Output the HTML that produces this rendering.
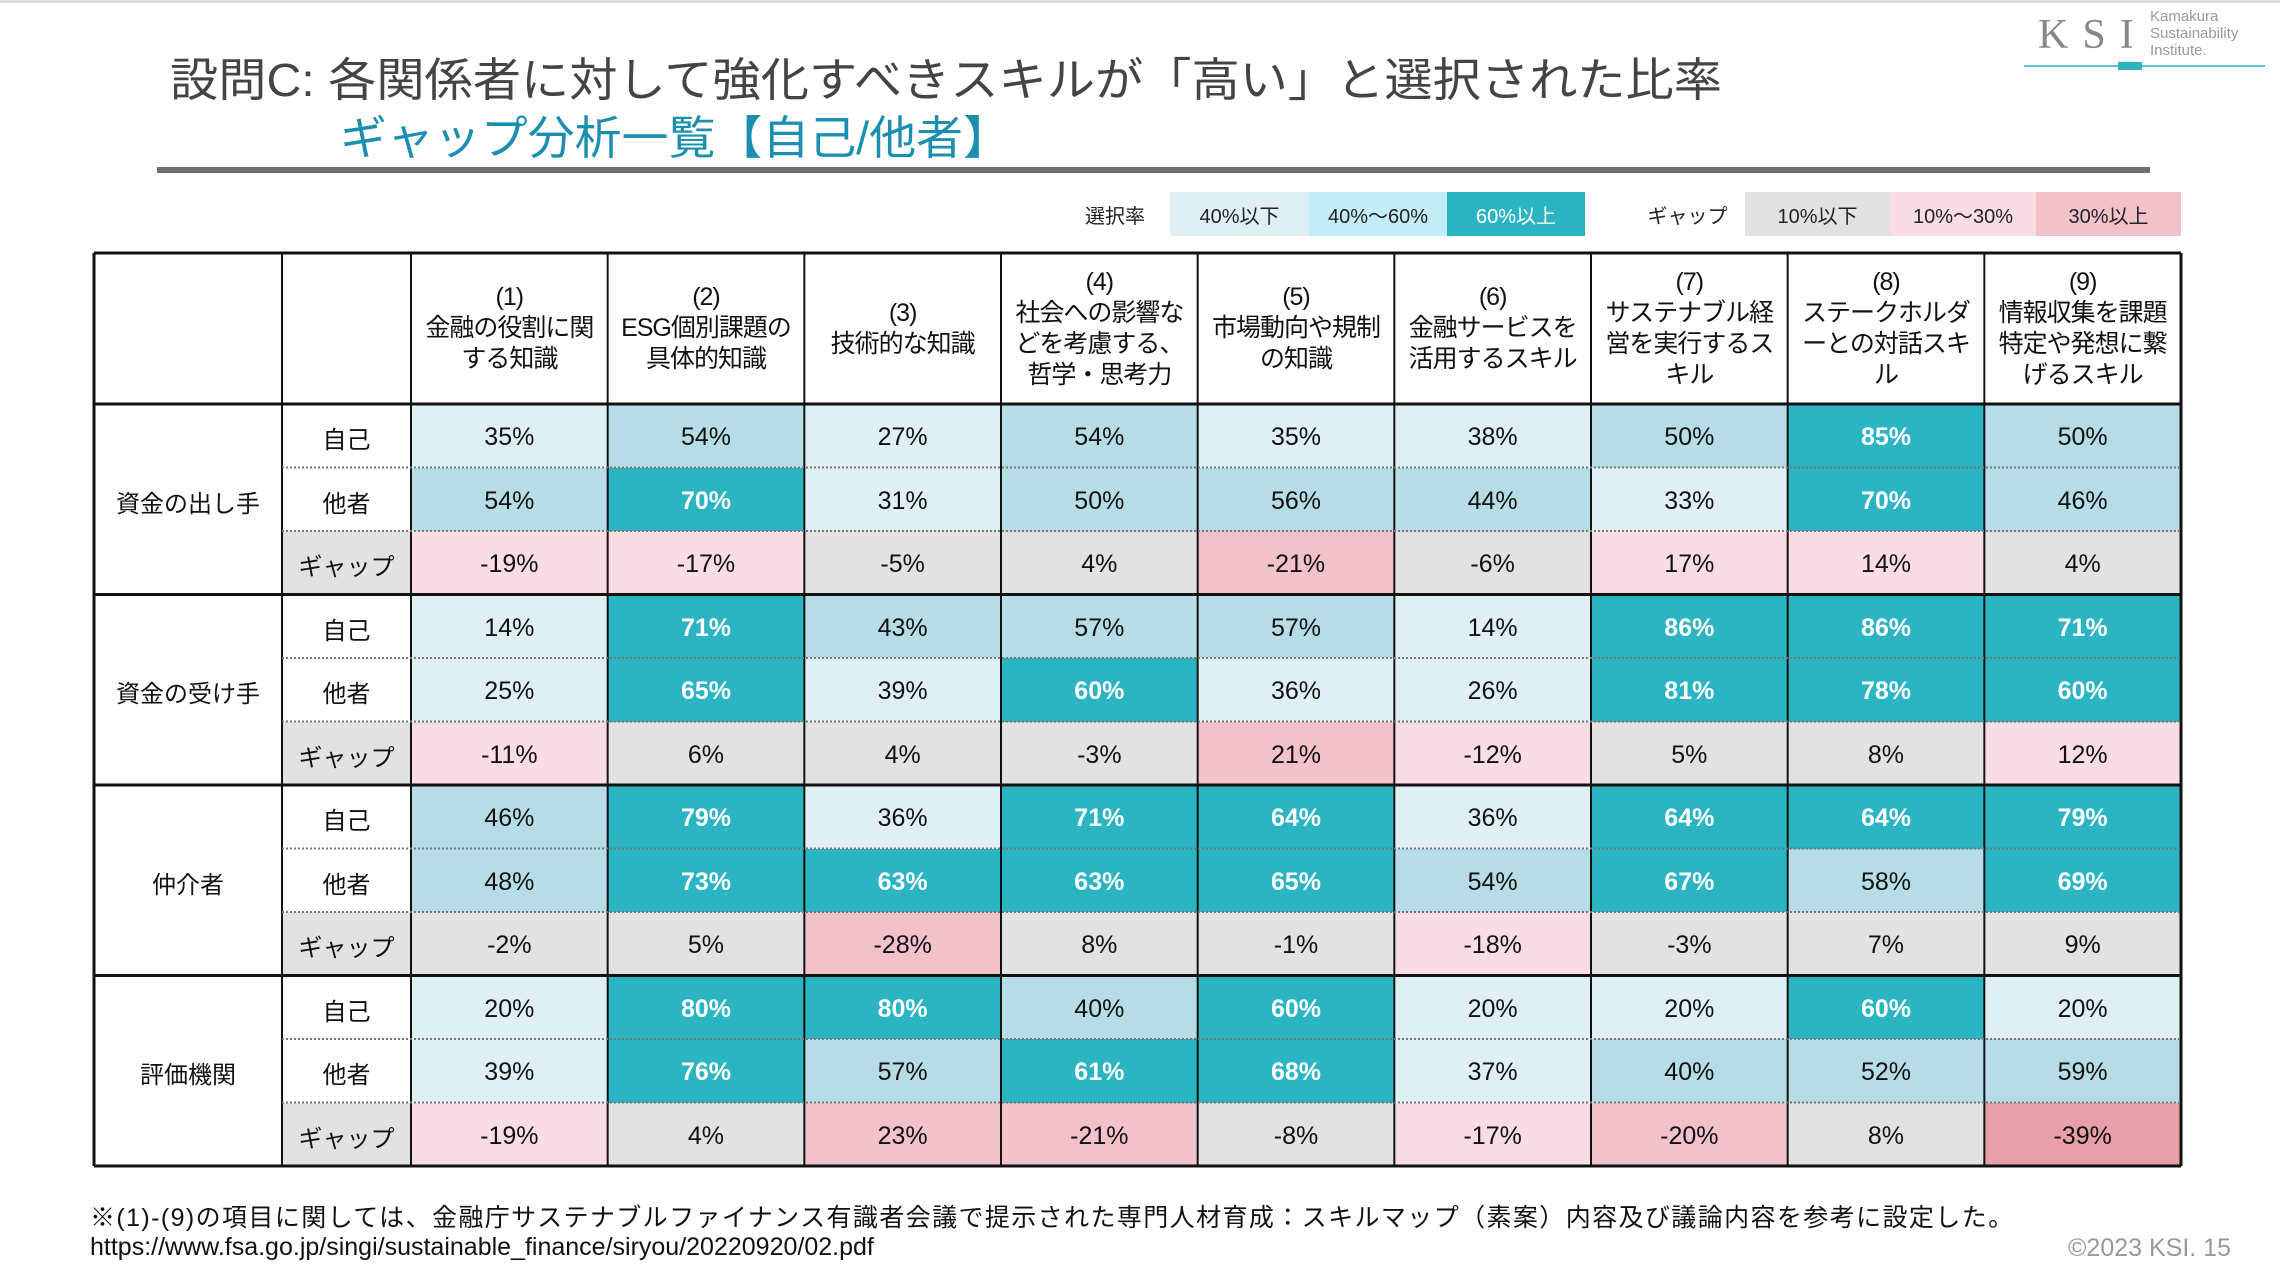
<!DOCTYPE html>
<html><head><meta charset="utf-8">
<style>
*{margin:0;padding:0;box-sizing:border-box}
body{width:2280px;height:1276px;background:#fff;position:relative;overflow:hidden;font-family:"Liberation Sans","Noto Sans CJK JP",sans-serif;color:#111}
.abs{position:absolute}
.cell{position:absolute;display:flex;align-items:center;justify-content:center;font-size:25px;white-space:nowrap;padding-top:4px}
.lg{position:absolute;top:192px;height:44px;display:flex;align-items:center;justify-content:center;font-size:20px;color:#222}
.hd{position:absolute;top:253px;height:151px;display:flex;align-items:center;justify-content:center;text-align:center;font-size:25px;line-height:31px;white-space:nowrap;letter-spacing:-1px}
</style></head><body>
<div class="abs" style="left:0;top:0;width:2280px;height:3px;background:#ddd"></div>
<svg class="abs" style="left:0;top:0" width="2280" height="260">
<text x="170" y="96" font-size="46" fill="#444" textLength="1552" lengthAdjust="spacingAndGlyphs" font-family="Liberation Sans, Noto Sans CJK JP, sans-serif">設問C: 各関係者に対して強化すべきスキルが「高い」と選択された比率</text>
<text x="340" y="154" font-size="46" fill="#1b8fb0" textLength="670" lengthAdjust="spacingAndGlyphs" font-family="Liberation Sans, Noto Sans CJK JP, sans-serif">ギャップ分析一覧【自己/他者】</text>
<rect x="157" y="167" width="1993" height="6" fill="#6e6e6e"/>
<text x="2038" y="48" font-size="42" fill="#888" font-family="Liberation Serif, serif" letter-spacing="14">KSI</text>
<text x="2150" y="21" font-size="15" fill="#999" font-family="Liberation Sans, sans-serif">Kamakura</text>
<text x="2150" y="38" font-size="15" fill="#999" font-family="Liberation Sans, sans-serif">Sustainability</text>
<text x="2150" y="55" font-size="15" fill="#999" font-family="Liberation Sans, sans-serif">Institute.</text>
<line x1="2024" y1="66" x2="2265" y2="66" stroke="#5cc3cf" stroke-width="2"/>
<rect x="2118" y="62" width="24" height="8" fill="#2bb5c2"/>
</svg>

<div class="lg" style="left:1060px;width:110px">選択率</div>
<div class="lg" style="left:1170px;width:139px;background:#dff0f4">40%以下</div>
<div class="lg" style="left:1309px;width:138px;background:#c2ecf6">40%～60%</div>
<div class="lg" style="left:1447px;width:138px;background:#2bb5c2;color:#fff">60%以上</div>
<div class="lg" style="left:1630px;width:115px">ギャップ</div>
<div class="lg" style="left:1745px;width:145px;background:#e2e2e2">10%以下</div>
<div class="lg" style="left:1890px;width:146px;background:#f9dde2">10%～30%</div>
<div class="lg" style="left:2036px;width:145px;background:#f2c1c9">30%以上</div>

<div id="tbl"></div>

<div class="abs" style="left:90px;top:1198px;font-size:25px;white-space:nowrap;letter-spacing:1.4px">※(1)-(9)の項目に関しては、金融庁サステナブルファイナンス有識者会議で提示された専門人材育成：スキルマップ（素案）内容及び議論内容を参考に設定した。</div>
<div class="abs" style="left:90px;top:1233px;font-size:25px;white-space:nowrap">https://www.fsa.go.jp/singi/sustainable_finance/siryou/20220920/02.pdf</div>
<div class="abs" style="left:2068px;top:1234px;font-size:25px;color:#999;white-space:nowrap">©2023 KSI. 15</div>

<script>
const headers=["(1)<br>金融の役割に関<br>する知識","(2)<br>ESG個別課題の<br>具体的知識","(3)<br>技術的な知識","(4)<br>社会への影響な<br>どを考慮する、<br>哲学・思考力","(5)<br>市場動向や規制<br>の知識","(6)<br>金融サービスを<br>活用するスキル","(7)<br>サステナブル経<br>営を実行するス<br>キル","(8)<br>ステークホルダ<br>ーとの対話スキ<br>ル","(9)<br>情報収集を課題<br>特定や発想に繋<br>げるスキル"];
const groups=["資金の出し手","資金の受け手","仲介者","評価機関"];
const rowLabels=["自己","他者","ギャップ"];
const selfVals=[[35,54,27,54,35,38,50,85,50],[14,71,43,57,57,14,86,86,71],[46,79,36,71,64,36,64,64,79],[20,80,80,40,60,20,20,60,20]];
const otherVals=[[54,70,31,50,56,44,33,70,46],[25,65,39,60,36,26,81,78,60],[48,73,63,63,65,54,67,58,69],[39,76,57,61,68,37,40,52,59]];
const gapVals=[[-19,-17,-5,4,-21,-6,17,14,4],[-11,6,4,-3,21,-12,5,8,12],[-2,5,-28,8,-1,-18,-3,7,9],[-19,4,23,-21,-8,-17,-20,8,-39]];

const T=document.getElementById('tbl');
const X0=94,X1=282,X2=411,XE=2181,Y0=253,YH=404,RH=63.5;
const CW=(XE-X2)/9;
function colX(i){return X2+i*CW;}
function rowY(g,r){return YH+(g*3+r)*RH;}
function rateStyle(v){if(v>=60)return['#2bb5c2','#fff',true];if(v>=40)return['#b6dce6','#111',false];return['#dff0f4','#111',false];}
function gapStyle(v){const a=Math.abs(v);if(a>=30)return'#e89fa8';if(a>=20)return'#f2c1c9';if(a>=10)return'#f9dde2';return'#e2e2e2';}
function box(x,y,w,h,css){const d=document.createElement('div');d.className='cell';d.style.cssText+=`left:${x}px;top:${y}px;width:${w}px;height:${h}px;`+(css||'');T.appendChild(d);return d;}
headers.forEach((h,i)=>{const d=document.createElement('div');d.className='hd';d.style.left=colX(i)+'px';d.style.width=CW+'px';d.innerHTML=h;


T.appendChild(d);});
groups.forEach((g,gi)=>{
 const gl=box(X0,rowY(gi,0),X1-X0,RH*3,'font-size:24px;');gl.textContent=g;
 
 
 const rows=[selfVals[gi],otherVals[gi],gapVals[gi]];
 rows.forEach((vals,r)=>{
  const y=rowY(gi,r);
  const rl=box(X1,y,X2-X1,RH,'font-size:24px;'+(r==2?'background:#e2e2e2;':''));rl.textContent=rowLabels[r];
  
  
  vals.forEach((v,ci)=>{
   let css;
   if(r<2){const s=rateStyle(v);css=`background:${s[0]};color:${s[1]};`+(s[2]?'font-weight:bold;':'');}
   else css=`background:${gapStyle(v)};`;
   const c=box(colX(ci),y,CW,RH,css);c.textContent=v+'%';
   
   
  });
 });
});
const svgNS='http://www.w3.org/2000/svg';
const svg=document.createElementNS(svgNS,'svg');
svg.setAttribute('width','2280');svg.setAttribute('height','1276');
svg.style.cssText='position:absolute;left:0;top:0;pointer-events:none';


function ln(x1,y1,x2,y2,w,dash){const l=document.createElementNS(svgNS,'line');l.setAttribute('x1',x1);l.setAttribute('y1',y1);l.setAttribute('x2',x2);l.setAttribute('y2',y2);l.setAttribute('stroke',dash?'#777':'#111');l.setAttribute('stroke-width',w);if(dash)l.setAttribute('stroke-dasharray','2 2');svg.appendChild(l);}
const YB=rowY(4,0);
[X0,X1,X2].forEach(x=>ln(x,Y0,x,YB,x==X0?3:2));
for(let i=1;i<9;i++)ln(colX(i),Y0,colX(i),YB,2);
ln(XE,Y0,XE,YB,3);
ln(X0,Y0,XE,Y0,3);
for(let g=0;g<=4;g++)ln(X0,rowY(g,0),XE,rowY(g,0),3);
for(let g=0;g<4;g++){ln(X1,rowY(g,1),XE,rowY(g,1),2,true);ln(X1,rowY(g,2),XE,rowY(g,2),2,true);}
T.appendChild(svg);
</script>
</body></html>
